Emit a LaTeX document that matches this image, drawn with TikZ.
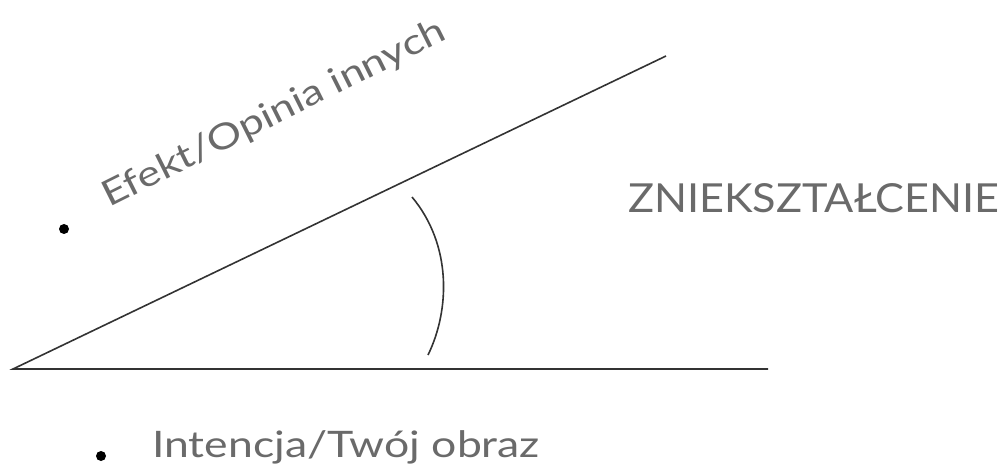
\documentclass[tikz,border=0pt]{standalone}
\usepackage{fontspec}
\setmainfont{Lato}
\newfontfamily\widefont{Lato}[FakeStretch=1.22]
\newfontfamily\capsfont{Lato}[FakeStretch=1.08]
\definecolor{txtgray}{HTML}{6A6A6A}
\definecolor{linegray}{HTML}{333333}
\tikzset{
  lbl/.style={text=txtgray, inner sep=0pt, anchor=base west},
  edge/.style={draw=linegray, line width=1.6pt},
  bullet/.style={circle, fill=black, inner sep=0pt, minimum size=10pt}
}
\begin{document}
\begin{tikzpicture}[x=1pt,y=-1pt]
\useasboundingbox (0,0) rectangle (1005,468);
\coordinate (V) at (13,369);
\coordinate (U) at (666,56);
\coordinate (L) at (768,369);
\coordinate (A1) at (412,197);
\coordinate (A2) at (428,355);
\draw[edge] (U) -- (V) -- (L);
\draw[edge] (A1) .. controls (452,245) and (450,310) .. (A2);
\node[bullet] (b1) at (64,229) {};
\node[bullet] (b2) at (101,456) {};
\node[lbl, rotate=26.5, font=\widefont\fontsize{35.5}{40}\selectfont] (t1) at (109,208) {Efekt/Opinia innych};
\node[lbl, font=\capsfont\fontsize{40}{48}\selectfont] (t2) at (628,212) {ZNIEKSZTAŁCENIE};
\node[lbl, font=\widefont\fontsize{36.5}{40}\selectfont] (t3) at (152,457) {Intencja/Twój obraz};
\end{tikzpicture}
\end{document}
